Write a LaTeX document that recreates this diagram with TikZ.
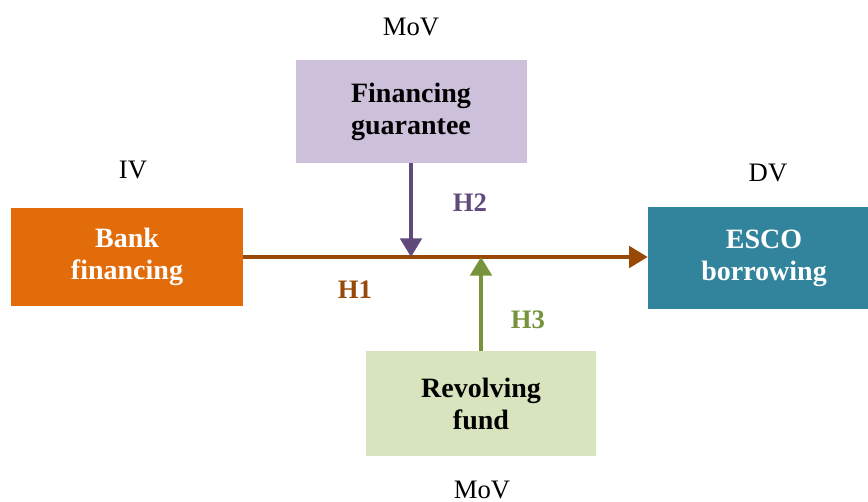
\documentclass[tikz,border=0pt]{standalone}
\usepackage{fontspec}
\setmainfont{Liberation Serif}
\usetikzlibrary{arrows.meta}

\definecolor{bankorange}{HTML}{E36C0A}
\definecolor{guarlilac}{HTML}{CCC0DA}
\definecolor{escoteal}{HTML}{31849B}
\definecolor{revgreen}{HTML}{D7E4BD}
\definecolor{hbrown}{HTML}{984807}
\definecolor{hpurple}{HTML}{604A7B}
\definecolor{hgreen}{HTML}{77933C}

\tikzset{
	varbox/.style={shape=rectangle,inner sep=0pt,align=center,font=\fontsize{21}{24}\selectfont\bfseries},
	vartag/.style={inner sep=0pt,anchor=base,font=\fontsize{20}{24}\selectfont},
	hyptag/.style={font=\fontsize{20}{24}\selectfont\bfseries},
	hyparrow/.style={line width=3pt,-{Triangle[length=14pt,width=16pt]}}
}

\begin{document}
\begin{tikzpicture}[x=0.75pt,y=-0.75pt]
	\useasboundingbox (0,0) rectangle (868,502);
	
	\node[varbox,fill=bankorange,text=white,minimum width=174pt,minimum height=73.5pt] (bank) at (127,257) {Bank\\financing};
	\node[varbox,fill=guarlilac,minimum width=173.25pt,minimum height=77.25pt] (guar) at (411,111.5) {Financing\\guarantee};
	\node[varbox,fill=escoteal,text=white,minimum width=174pt,minimum height=76.5pt] (esco) at (764,258.5) {ESCO\\borrowing};
	\node[varbox,fill=revgreen,minimum width=172.5pt,minimum height=78.75pt] (rev) at (481,403.5) {Revolving\\fund};
	
	\node[vartag] (ivtag) at (133,179) {IV};
	\node[vartag] (dvtag) at (768,182) {DV};
	\node[vartag] (movtop) at (411,36) {MoV};
	\node[vartag] (movbot) at (482,498) {MoV};
	
	\draw[hyparrow,hbrown] (bank.east) -- (bank.east -| esco.west);
	\draw[hyparrow,hpurple] (guar) -- (guar |- bank);
	\draw[hyparrow,hgreen] (rev) -- (rev |- bank);
	
	\node[hyptag,text=hbrown] (h1) at (355,290) {H1};
	\node[hyptag,text=hpurple] (h2) at (470,203) {H2};
	\node[hyptag,text=hgreen] (h3) at (528,320) {H3};
	
\end{tikzpicture}
\end{document}
